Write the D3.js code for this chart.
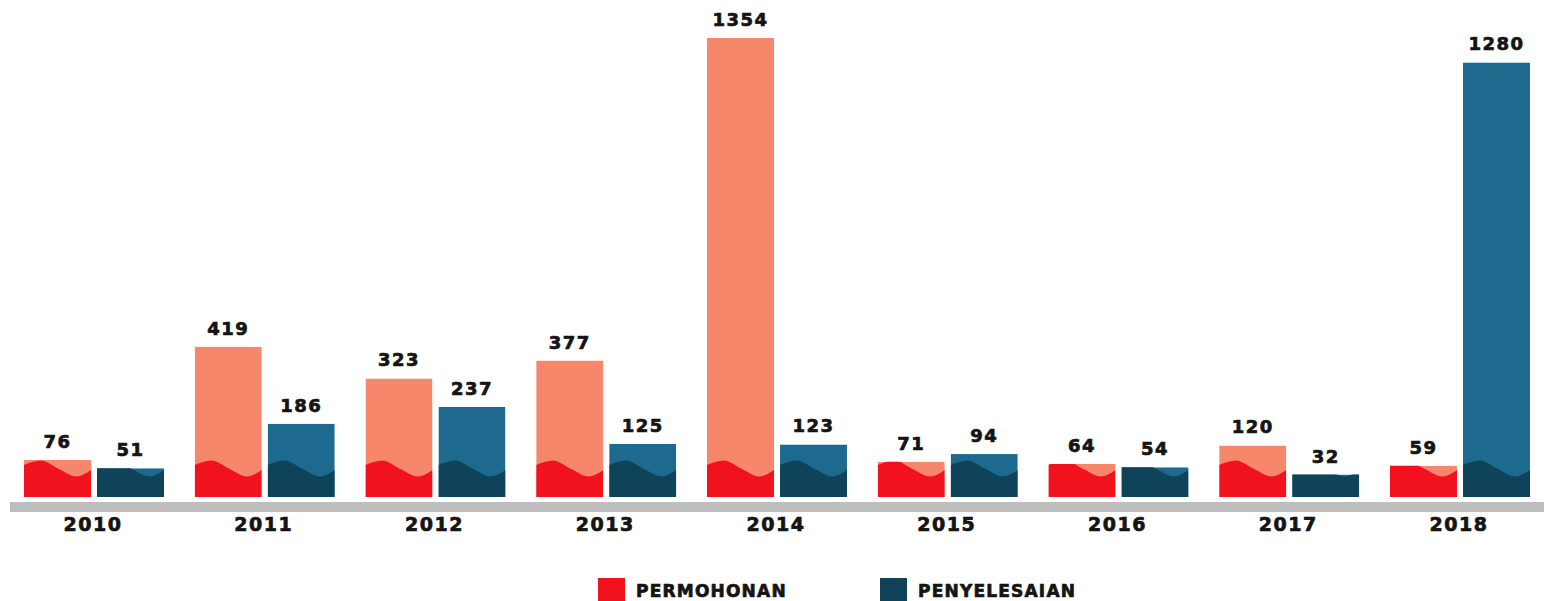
<!DOCTYPE html>
<html>
<head>
<meta charset="utf-8">
<script src="https://cdn.jsdelivr.net/npm/d3@7"></script>
<style>
  html, body { margin: 0; padding: 0; background: #ffffff; }
  svg { display: block; }
  text { font-family: "DejaVu Sans", sans-serif; font-weight: bold; fill: #141414; stroke: #141414; stroke-width: 0.7px; }
</style>
</head>
<body>
<svg id="chart" width="1544" height="601"></svg>
<script>
const years = ["2010", "2011", "2012", "2013", "2014", "2015", "2016", "2017", "2018"];
const permohonan = [76, 419, 323, 377, 1354, 71, 64, 120, 59];
const penyelesaian = [51, 186, 237, 125, 123, 94, 54, 32, 1280];
const seriesNames = ["PERMOHONAN", "PENYELESAIAN"];
const seriesKeys = ["p", "s"];

const colors = {
  p: { light: "#f6876a", dark: "#f2121e", legend: "#f2121e" },
  s: { light: "#1d6a8e", dark: "#0f435a", legend: "#0f435a" }
};

const data = years.map((y, i) => ({ year: y, p: permohonan[i], s: penyelesaian[i] }));

const svg = d3.select("#chart");
const baseY = 497;

const x0 = d3.scaleBand().domain(years).range([8.6, 8.6 + 9 * 170.75])
  .paddingInner(0.18).paddingOuter(0.09);
const x1 = d3.scaleBand().domain(seriesKeys).range([0, x0.bandwidth()])
  .paddingInner(0.082).paddingOuter(0);
const y = d3.scaleLinear().domain([-36, 1354]).range([baseY, 38]);

// wave profile (height above base, as fraction of bar width)
const waveProfile = [[0, 32], [0.25, 36.5], [0.52, 28], [0.78, 20.5], [1, 27]];

const defs = svg.append("defs");

const groups = svg.selectAll("g.year").data(data).join("g")
  .attr("class", "year");

groups.each(function(d, gi) {
  seriesKeys.forEach(k => {
    const v = d[k];
    const bx = x0(d.year) + x1(k);
    const bw = x1.bandwidth();
    const top = y(v);
    const id = `clip-${gi}-${k}`;
    defs.append("clipPath").attr("id", id)
      .append("rect").attr("x", bx).attr("y", top)
      .attr("width", bw).attr("height", baseY - top);
    const bar = svg.append("g").attr("clip-path", `url(#${id})`);
    bar.append("rect")
      .attr("x", bx).attr("y", top)
      .attr("width", bw).attr("height", baseY - top)
      .attr("fill", colors[k].light);
    const area = d3.area()
      .x(p => bx + p[0] * bw)
      .y0(baseY)
      .y1(p => baseY - p[1])
      .curve(d3.curveMonotoneX);
    bar.append("path").attr("d", area(waveProfile)).attr("fill", colors[k].dark);
    svg.append("text")
      .attr("x", bx + bw / 2)
      .attr("y", top - 12)
      .attr("text-anchor", "middle")
      .attr("font-size", 18)
      .attr("letter-spacing", 1.5)
      .text(v);
  });
});

// axis band
svg.append("rect").attr("x", 10).attr("y", 502).attr("width", 1534).attr("height", 10).attr("fill", "#bebebe");

// year labels
svg.selectAll("text.yl").data(years).join("text")
  .attr("class", "yl")
  .attr("x", d => x0(d) + x0.bandwidth() / 2 - 1)
  .attr("y", 531)
  .attr("text-anchor", "middle")
  .attr("font-size", 19)
  .attr("letter-spacing", 1.5)
  .text(d => d);

// legend
const legendX = [598, 880];
seriesKeys.forEach((k, i) => {
  svg.append("rect").attr("x", legendX[i]).attr("y", 578).attr("width", 27).attr("height", 26)
    .attr("fill", colors[k].legend);
  svg.append("text").attr("x", legendX[i] + 38).attr("y", 597)
    .attr("font-size", 17).attr("letter-spacing", 1.2)
    .text(seriesNames[i]);
});
</script>
</body>
</html>
